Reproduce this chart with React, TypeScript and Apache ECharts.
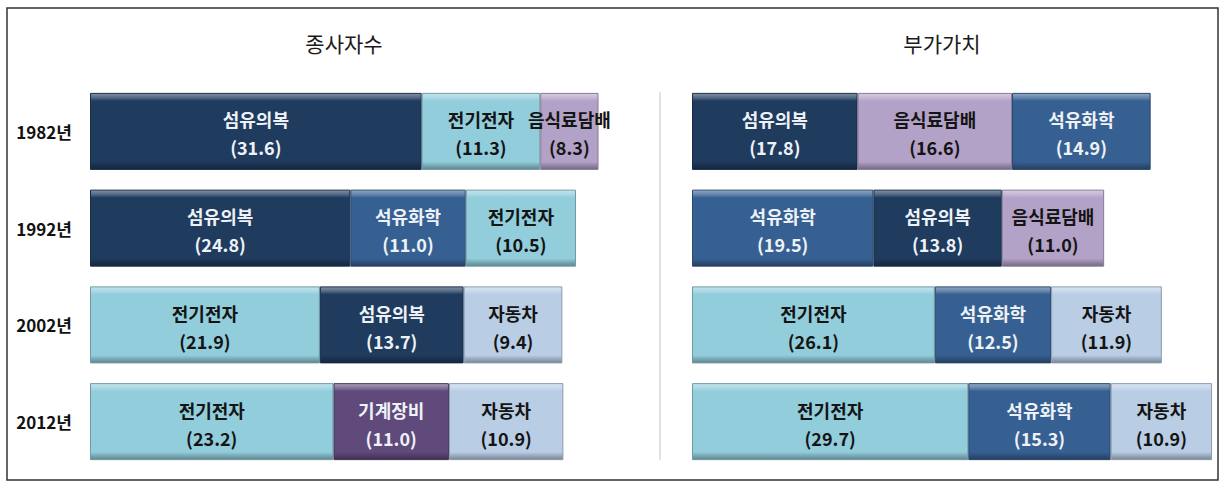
import React, { useEffect, useRef } from 'react';
import * as echarts from 'echarts';

// ---------- data ----------
const years = ['1982년', '1992년', '2002년', '2012년'];

// 종사자수 : three segments per year, left → right
const empSeg1Names = ['섬유의복', '섬유의복', '전기전자', '전기전자'];
const empSeg1Values = [31.6, 24.8, 21.9, 23.2];
const empSeg2Names = ['전기전자', '석유화학', '섬유의복', '기계장비'];
const empSeg2Values = [11.3, 11.0, 13.7, 11.0];
const empSeg3Names = ['음식료담배', '전기전자', '자동차', '자동차'];
const empSeg3Values = [8.3, 10.5, 9.4, 10.9];

// 부가가치 : three segments per year, left → right
const vaSeg1Names = ['섬유의복', '석유화학', '전기전자', '전기전자'];
const vaSeg1Values = [17.8, 19.5, 26.1, 29.7];
const vaSeg2Names = ['음식료담배', '섬유의복', '석유화학', '석유화학'];
const vaSeg2Values = [16.6, 13.8, 12.5, 15.3];
const vaSeg3Names = ['석유화학', '음식료담배', '자동차', '자동차'];
const vaSeg3Values = [14.9, 11.0, 11.9, 10.9];

const panelTitles = ['종사자수', '부가가치'];

// ---------- styles ----------
const industryColors: Record<string, string> = {
  섬유의복: '#1f3b5e',
  전기전자: '#92cddc',
  음식료담배: '#b3a2c7',
  석유화학: '#376092',
  자동차: '#b9cde5',
  기계장비: '#5f4a7b',
};
const darkIndustries = ['섬유의복', '석유화학', '기계장비'];

const FONT = '"Noto Sans CJK KR", "Noto Sans", sans-serif';

function hexToRgb(hex: string) {
  const h = hex.replace('#', '');
  return [parseInt(h.slice(0, 2), 16), parseInt(h.slice(2, 4), 16), parseInt(h.slice(4, 6), 16)];
}
function mix(hex: string, target: string, t: number) {
  const a = hexToRgb(hex);
  const b = hexToRgb(target);
  const c = a.map((v, i) => Math.round(v + (b[i] - v) * t));
  return `rgb(${c[0]},${c[1]},${c[2]})`;
}
function bevel(hex: string) {
  return new echarts.graphic.LinearGradient(0, 0, 0, 1, [
    { offset: 0, color: mix(hex, '#ffffff', 0.45) },
    { offset: 0.06, color: mix(hex, '#ffffff', 0.22) },
    { offset: 0.1, color: hex },
    { offset: 0.9, color: hex },
    { offset: 0.95, color: mix(hex, '#000000', 0.18) },
    { offset: 1, color: mix(hex, '#000000', 0.35) },
  ]);
}

function makeSeries(names: string[], values: number[], axisIdx: number, stack: string) {
  return {
    type: 'bar',
    stack,
    xAxisIndex: axisIdx,
    yAxisIndex: axisIdx,
    barWidth: 77,
    clip: true,
    data: values.map((v, i) => {
      const n = names[i];
      const base = industryColors[n];
      const dark = darkIndustries.includes(n);
      return {
        value: v,
        name: n,
        itemStyle: {
          color: bevel(base),
          borderColor: mix(base, '#000000', 0.25),
          borderWidth: 1,
        },
        label: { color: dark ? '#eef2f7' : '#141414' },
      };
    }),
    label: {
      show: true,
      position: 'inside',
      offset: [0, 2],
      fontFamily: FONT,
      fontSize: 18,
      fontWeight: 'bold',
      lineHeight: 28,
      formatter: (p: any) => `${p.data.name}\n(${Number(p.value).toFixed(1)})`,
    },
    emphasis: { disabled: true },
  };
}

export default function App() {
  const ref = useRef<HTMLDivElement>(null);

  useEffect(() => {
    document.body.style.margin = '0';
    const chart = echarts.init(ref.current!, undefined, { renderer: 'svg' });
    const gridTop = 83;
    const gridHeight = 387;
    const option: any = {
      animation: false,
      backgroundColor: '#ffffff',
      title: [
        {
          text: panelTitles[0],
          left: 344,
          top: 32,
          padding: 0,
          textAlign: 'center',
          textStyle: { fontFamily: FONT, fontSize: 21, fontWeight: 'normal', color: '#1a1a1a' },
        },
        {
          text: panelTitles[1],
          left: 942,
          top: 32,
          padding: 0,
          textAlign: 'center',
          textStyle: { fontFamily: FONT, fontSize: 21, fontWeight: 'normal', color: '#1a1a1a' },
        },
      ],
      grid: [
        { left: 90, top: gridTop, width: 508, height: gridHeight },
        { left: 692, top: gridTop, width: 521, height: gridHeight },
      ],
      xAxis: [
        { type: 'value', gridIndex: 0, min: 0, max: 48.4, show: false },
        { type: 'value', gridIndex: 1, min: 0, max: 56, show: false },
      ],
      yAxis: [
        {
          type: 'category',
          gridIndex: 0,
          data: years,
          inverse: true,
          axisLine: { show: false },
          axisTick: { show: false },
          splitLine: { show: false },
          axisLabel: {
            margin: 18,
            fontFamily: FONT,
            fontSize: 17,
            fontWeight: 'bold',
            color: '#111111',
          },
        },
        {
          type: 'category',
          gridIndex: 1,
          data: years,
          inverse: true,
          show: false,
        },
      ],
      graphic: [
        {
          type: 'rect',
          shape: { x: 7, y: 8, width: 1211, height: 472 },
          style: { fill: 'none', stroke: '#333333', lineWidth: 1.5 },
          silent: true,
        },
        {
          type: 'line',
          shape: { x1: 660, y1: 92, x2: 660, y2: 460 },
          style: { stroke: '#c4c4c4', lineWidth: 1 },
          silent: true,
        },
      ],
      series: [
        makeSeries(empSeg1Names, empSeg1Values, 0, 'emp'),
        makeSeries(empSeg2Names, empSeg2Values, 0, 'emp'),
        makeSeries(empSeg3Names, empSeg3Values, 0, 'emp'),
        makeSeries(vaSeg1Names, vaSeg1Values, 1, 'va'),
        makeSeries(vaSeg2Names, vaSeg2Values, 1, 'va'),
        makeSeries(vaSeg3Names, vaSeg3Values, 1, 'va'),
      ],
    };
    chart.setOption(option);
    return () => chart.dispose();
  }, []);

  return <div ref={ref} style={{ width: 1225, height: 488, background: '#ffffff' }} />;
}
